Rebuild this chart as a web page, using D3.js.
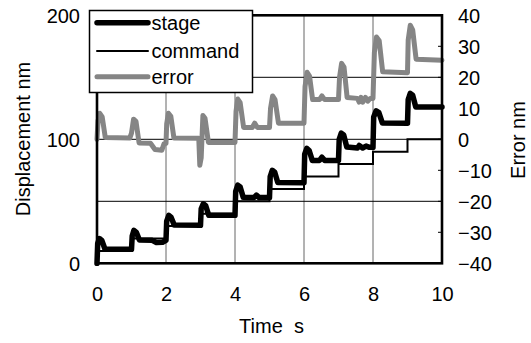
<!DOCTYPE html>
<html>
<head>
<meta charset="utf-8">
<script src="https://cdn.jsdelivr.net/npm/d3@7"></script>
<style>
  html, body { margin: 0; padding: 0; background: #fff; }
  svg { display: block; font-family: "Liberation Sans", Arial, sans-serif; }
</style>
</head>
<body>
<svg id="chart" width="531" height="343"></svg>
<script>
// ---------- data ----------
const timeTicks = [0, 2, 4, 6, 8, 10];
const dispTicks = [0, 100, 200];
const dispGrid = [50, 100, 150];
const errorTicks = [-40, -30, -20, -10, 0, 10, 20, 30, 40];
const seriesNames = ["stage", "command", "error"];

// command: step value held from each time until the next
const commandTimes = [0, 1, 2, 3, 4, 5, 6, 7, 8, 9, 10];
const commandValues = [10, 20, 30, 40, 50, 60, 70, 80, 90, 100, 100];

// stage displacement [time s, nm] (left axis)
const stage = [
  [0, 0], [0.02, 16], [0.07, 20], [0.14, 18.5], [0.23, 11.5], [1.0, 11.3],
  [1.02, 22], [1.07, 26.6], [1.14, 25], [1.23, 18.8], [1.6, 18.5], [1.72, 16.8], [1.9, 17], [2.0, 18.5],
  [2.02, 34], [2.08, 38.7], [2.15, 37], [2.24, 30.8], [3.0, 30.6],
  [3.02, 44], [3.08, 48], [3.15, 46.5], [3.24, 38.7], [4.0, 38.7],
  [4.02, 58], [4.08, 63], [4.15, 61.5], [4.24, 53.2], [4.55, 53], [4.62, 55], [4.7, 53], [5.0, 53],
  [5.02, 70], [5.08, 75], [5.15, 73.5], [5.24, 65.2], [6.0, 65],
  [6.02, 88], [6.08, 92.7], [6.15, 91], [6.24, 83], [6.45, 83], [6.52, 85.5], [6.6, 83], [7.0, 83],
  [7.02, 100], [7.08, 105], [7.15, 103.5], [7.24, 93.8], [7.55, 93], [7.6, 95], [7.7, 93], [7.8, 94.5], [7.9, 93.5], [8.0, 93.5],
  [8.02, 118], [8.09, 123], [8.17, 121.5], [8.27, 113.2], [9.0, 113],
  [9.02, 132], [9.08, 137], [9.15, 135.5], [9.24, 126], [10, 126]
];

// error [time s, nm] (right axis)
const error = [
  [0, 0], [0.03, 6], [0.08, 8.4], [0.15, 7.2], [0.24, 0.6], [0.95, 0.4],
  [1.0, 2], [1.06, 6.5], [1.13, 5.8], [1.22, -1.2], [1.55, -1.3], [1.68, -3.3], [1.88, -3.5], [1.94, -1.5], [2.0, -1.3],
  [2.02, 5], [2.07, 8.4], [2.14, 7.4], [2.23, 0.4], [2.95, 0.3],
  [2.98, -8.4], [3.02, -6], [3.07, 7.7], [3.13, 6.8], [3.23, -1], [4.0, -1],
  [4.03, 9], [4.08, 13], [4.15, 11.8], [4.25, 3.8], [4.5, 3.8], [4.57, 5.2], [4.65, 3.8], [5.0, 3.8],
  [5.03, 10], [5.09, 14], [5.16, 12.8], [5.26, 5.2], [6.0, 5.2],
  [6.03, 17], [6.09, 21.6], [6.16, 20.4], [6.25, 12.8], [6.45, 12.8], [6.52, 14], [6.6, 12.8], [7.0, 12.8],
  [7.03, 20], [7.09, 24.5], [7.16, 23.3], [7.25, 13.5], [7.55, 13.2], [7.6, 12], [7.65, 13.5], [7.7, 12], [7.78, 13.5], [7.85, 12.3], [7.92, 13.2], [8.0, 13.2],
  [8.04, 28], [8.1, 33], [8.18, 31.8], [8.28, 21.8], [9.0, 21.5],
  [9.02, 32], [9.08, 36.8], [9.15, 35.3], [9.25, 25.8], [10, 25.5]
];

// ---------- layout ----------
const W = 531, H = 343;
const X0 = 97, X1 = 442, Y0 = 15.3, Y1 = 263.3;
const FONT = 20;
const GRAY = "#858585";

const svg = d3.select("#chart");

const x = d3.scaleLinear().domain([0, 10]).range([X0, X1]);
const yL = d3.scaleLinear().domain([0, 200]).range([Y1, Y0]);
const yR = d3.scaleLinear().domain([-40, 40]).range([Y1, Y0]);

// gridlines
svg.append("g").selectAll("line").data(timeTicks.filter(t => t > 0 && t < 10)).join("line")
  .attr("x1", d => x(d)).attr("x2", d => x(d)).attr("y1", Y0).attr("y2", Y1)
  .attr("stroke", "#666").attr("stroke-width", 1);
svg.append("g").selectAll("line").data(dispGrid).join("line")
  .attr("x1", X0).attr("x2", X1).attr("y1", d => yL(d)).attr("y2", d => yL(d))
  .attr("stroke", "#000").attr("stroke-width", 1);

// right axis inward ticks
svg.append("g").selectAll("line").data(errorTicks).join("line")
  .attr("x1", X1 - 4).attr("x2", X1).attr("y1", d => yR(d)).attr("y2", d => yR(d))
  .attr("stroke", "#000").attr("stroke-width", 1);

// series
const lineL = d3.line().x(d => x(d[0])).y(d => yL(d[1]));
const lineR = d3.line().x(d => x(d[0])).y(d => yR(d[1]));

svg.append("path").datum(stage).attr("d", lineL)
  .attr("fill", "none").attr("stroke", "#000").attr("stroke-width", 5.5)
  .attr("stroke-linejoin", "round").attr("stroke-linecap", "round");

const cmdLine = d3.line().curve(d3.curveStepAfter).x(d => x(d[0])).y(d => yL(d[1]));
svg.append("path").datum(commandTimes.map((t, i) => [t, commandValues[i]])).attr("d", cmdLine)
  .attr("fill", "none").attr("stroke", "#000").attr("stroke-width", 2);

svg.append("path").datum(error).attr("d", lineR)
  .attr("fill", "none").attr("stroke", GRAY).attr("stroke-width", 5)
  .attr("stroke-linejoin", "round").attr("stroke-linecap", "round");

// plot border
svg.append("rect").attr("x", X0).attr("y", Y0).attr("width", X1 - X0).attr("height", Y1 - Y0)
  .attr("fill", "none").attr("stroke", "#000").attr("stroke-width", 2.6);

// axes (labels)
function styleAxis(g) {
  g.select(".domain").remove();
  g.selectAll(".tick line").remove();
  g.selectAll("text").attr("font-size", FONT).attr("fill", "#000")
    .attr("font-family", "'Liberation Sans', Arial, sans-serif");
}
svg.append("g").attr("transform", `translate(0,${Y1})`)
  .call(d3.axisBottom(x).tickValues(timeTicks).tickFormat(d3.format("d")).tickSize(0).tickPadding(23.5))
  .call(styleAxis);
svg.append("g").attr("transform", `translate(${X0},0)`)
  .call(d3.axisLeft(yL).tickValues(dispTicks).tickFormat(d3.format("d")).tickSize(0).tickPadding(17))
  .call(styleAxis)
  .selectAll("text").attr("dy", "0.37em");
svg.append("g").attr("transform", `translate(${X1},0)`)
  .call(d3.axisRight(yR).tickValues(errorTicks).tickFormat(d3.format("d")).tickSize(0).tickPadding(16))
  .call(styleAxis)
  .selectAll("text").attr("dy", "0.37em");

// axis titles
svg.append("text").attr("x", (X0 + X1) / 2 + 2).attr("y", 333)
  .attr("text-anchor", "middle").attr("font-size", FONT).style("white-space", "pre")
  .text("Time  s");
svg.append("text").attr("transform", `translate(30,139) rotate(-90)`)
  .attr("text-anchor", "middle").attr("font-size", FONT).text("Displacement nm");
svg.append("text").attr("transform", `translate(524.5,140) rotate(-90)`)
  .attr("text-anchor", "middle").attr("font-size", FONT).text("Error nm");

// legend
const lg = svg.append("g");
lg.append("rect").attr("x", 89.5).attr("y", 10.5).attr("width", 163).attr("height", 82)
  .attr("fill", "#fff").attr("stroke", "#000").attr("stroke-width", 1.5);
const legendStyle = [
  { stroke: "#000", width: 5.5 },
  { stroke: "#000", width: 2 },
  { stroke: GRAY, width: 5 }
];
const legendY = [22.7, 51, 76.7];
seriesNames.forEach((name, i) => {
  lg.append("line").attr("x1", 97).attr("x2", 148).attr("y1", legendY[i]).attr("y2", legendY[i])
    .attr("stroke", legendStyle[i].stroke).attr("stroke-width", legendStyle[i].width)
    .attr("stroke-linecap", "round");
  lg.append("text").attr("x", 151.5).attr("y", legendY[i] + 7)
    .attr("font-size", FONT).text(name);
});
</script>
</body>
</html>
